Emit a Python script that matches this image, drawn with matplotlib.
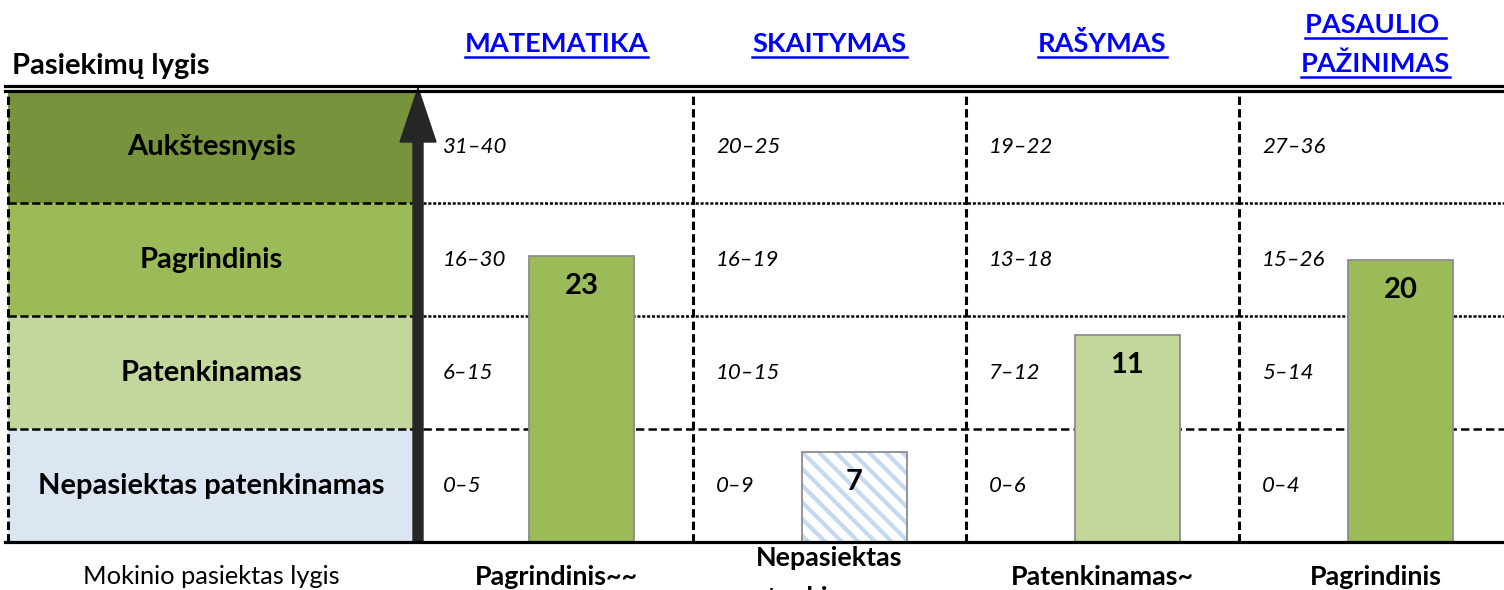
import numpy as np
import matplotlib.pyplot as plt
from matplotlib.patches import Rectangle, FancyArrow
from matplotlib.lines import Line2D
from matplotlib.transforms import IdentityTransform

plt.rcParams['font.family'] = ['Lato', 'DejaVu Sans']
plt.rcParams['hatch.linewidth'] = 3.0
plt.rcParams['lines.scale_dashes'] = False

# data
subjects = ['MATEMATIKA', 'SKAITYMAS', 'RAŠYMAS', 'PASAULIO \nPAŽINIMAS']
levels = ['Nepasiektas patenkinamas', 'Patenkinamas', 'Pagrindinis', 'Aukštesnysis']
range_lo = [[0, 6, 16, 31], [0, 10, 16, 20], [0, 7, 13, 19], [0, 5, 15, 27]]
range_hi = [[5, 15, 30, 40], [9, 15, 19, 25], [6, 12, 18, 22], [4, 14, 26, 36]]
scores = [23, 7, 11, 20]
achieved = ['Pagrindinis~~', 'Nepasiektas\npatenkinamas~', 'Patenkinamas~', 'Pagrindinis']
level_colors = ['#DCE6F2', '#C3D69B', '#9BBB59', '#77933C']
hatch_blue = '#C6D9F1'

W, H = 1504, 590
COL = 273.0          # px per subject column
ROW = (542 - 90.5) / 4  # px per level row


def ypx(p):
    # figure pixel row -> data y
    return (542 - p) / ROW


fig = plt.figure(figsize=(W / 100, H / 100), dpi=100)
ax = fig.add_axes([0, 48 / H, 1, (542 - 90.5) / H])
ax.set_xlim(-420 / COL, (W - 420) / COL)
ax.set_ylim(0, 4)
ax.axis('off')

left = -412 / COL
right_col = -5 / COL
xmax = (W - 420) / COL
xmin = -415 / COL

# left level column
for k in range(4):
    ax.add_patch(Rectangle((left, k), right_col - left, 1, facecolor=level_colors[k],
                           edgecolor='none', zorder=1))
    ax.text((left + right_col) / 2, k + 0.5, levels[k], ha='center', va='center',
            fontsize=21, fontweight='bold', zorder=4)
for k in range(1, 4):
    ax.plot([left, right_col], [k, k], color='black', lw=1.8, dashes=(6, 2.5), zorder=2)
    if k == 1:
        ax.plot([0.01, xmax], [k, k], color='black', lw=1.8, dashes=(6, 3), zorder=2)
    else:
        ax.plot([0.01, xmax], [k, k], color='black', lw=1.8, dashes=(2.2, 1.3), zorder=2)
ax.plot([left, left], [0, 4], color='black', lw=2.2, dashes=(6, 3), zorder=2)
for i in range(1, 4):
    ax.plot([i, i], [0, 4], color='black', lw=2.2, dashes=(6, 3), zorder=2)

# frame lines
ax.plot([xmin, xmax], [0, 0], color='black', lw=2.3, zorder=6, clip_on=False)
ax.plot([xmin, xmax], [4, 4], color='black', lw=2.3, zorder=6, clip_on=False)
ax.plot([xmin, xmax], [ypx(85.5), ypx(85.5)], color='black', lw=2.3, zorder=6, clip_on=False)

# arrow
ax.add_patch(FancyArrow(-2 / COL, 0, 0, ypx(88), width=10 / COL, head_width=36 / COL,
                        head_length=54 / ROW, length_includes_head=True,
                        color='#262626', zorder=5, clip_on=False))

# bars
xs = np.arange(4) + 0.5 + 25 / COL
bw = 105 / COL
header_texts = []
for i in range(4):
    s = scores[i]
    k = [j for j in range(4) if range_lo[i][j] <= s <= range_hi[i][j]][0]
    h = k + (s - range_lo[i][k] + 1) / (range_hi[i][k] - range_lo[i][k] + 1)
    if k == 0:
        ax.bar(xs[i], h, width=bw, color='white', edgecolor=hatch_blue, hatch='\\\\',
               lw=0, zorder=3)
        ax.bar(xs[i], h, width=bw, fill=False, edgecolor='#8C8C8C', lw=1.3, zorder=3)
    else:
        ax.bar(xs[i], h, width=bw, color=level_colors[k], edgecolor='#8C8C8C', lw=1.3, zorder=3)
    ax.text(xs[i], h - 30 / ROW, str(s), ha='center', va='center', fontsize=21,
            fontweight='bold', zorder=4)

    # score ranges
    for j in range(4):
        ax.text(i + 23 / COL, j + 0.5, f'{range_lo[i][j]}–{range_hi[i][j]}', ha='left',
                va='center', fontsize=16, style='italic', zorder=4)

    # headers
    lines = subjects[i].split('\n')
    bases = [52] if len(lines) == 1 else [33, 72]
    for line, b in zip(lines, bases):
        t = ax.text(i + 0.5, ypx(b), line, ha='center', va='baseline', fontsize=19.6,
                    fontweight='bold', color='#0000FF', clip_on=False)
        header_texts.append((t, b))

    # achieved level
    alines = achieved[i].split('\n')
    start = 577 if len(alines) == 1 else 558
    for j, line in enumerate(alines):
        ax.text(i + 0.5, ypx(start + 40 * j), line, ha='center', va='center', fontsize=19.4,
                fontweight='bold', clip_on=False)

ax.text(-1.495, ypx(74), 'Pasiekimų lygis', ha='left', va='baseline', fontsize=21,
        fontweight='bold', clip_on=False)
ax.text((left + right_col) / 2, ypx(577), 'Mokinio pasiektas lygis', ha='center',
        va='center', fontsize=18.3, clip_on=False)

# underline headers
fig.canvas.draw()
r = fig.canvas.get_renderer()
for t, b in header_texts:
    bb = t.get_window_extent(r)
    yy = H - b - 5
    fig.add_artist(Line2D([bb.x0, bb.x1], [yy, yy], color='#0000FF', lw=1.8,
                          transform=IdentityTransform()))

fig.savefig('out.png', dpi=100)
